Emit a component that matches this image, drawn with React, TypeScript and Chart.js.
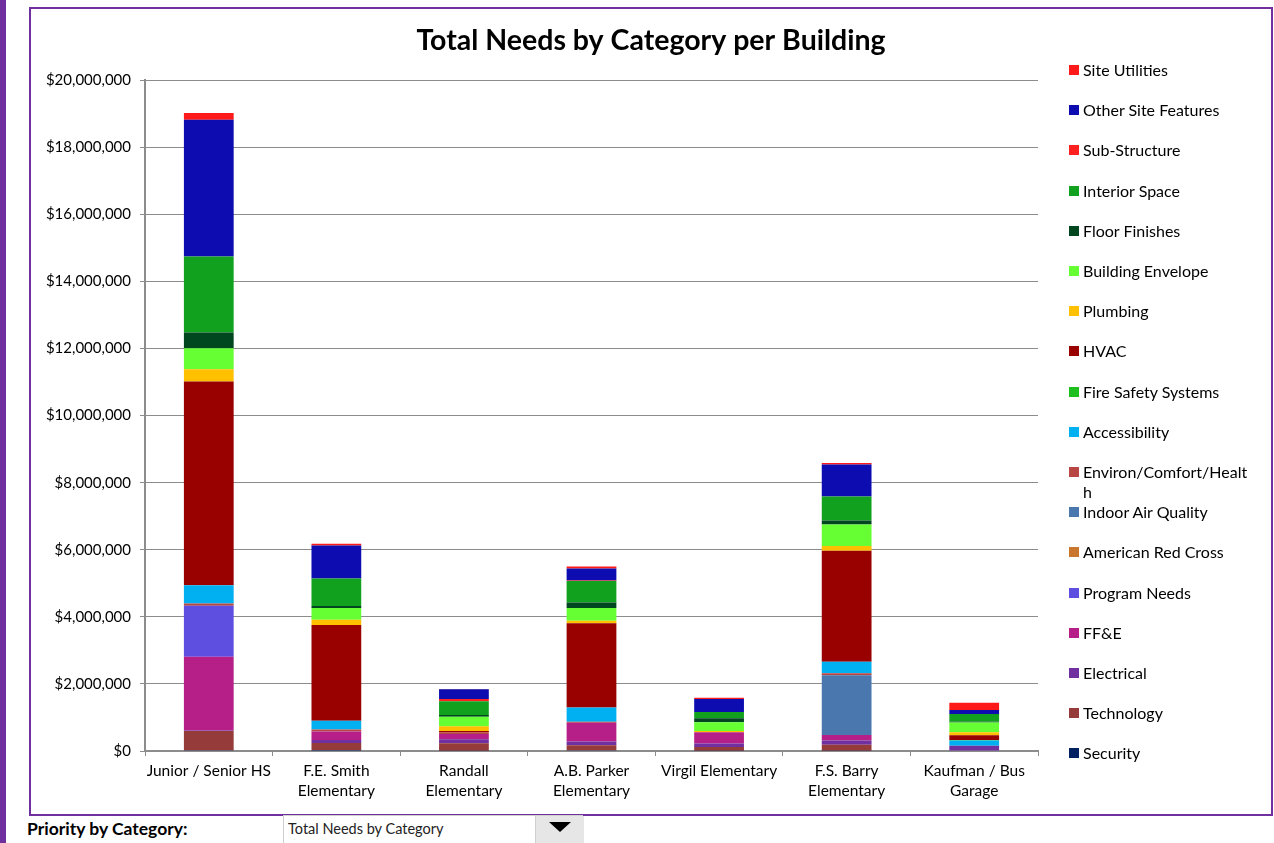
import React, { useEffect, useRef } from "react";
import { Chart, registerables } from "chart.js";

Chart.register(...registerables);

const buildings: string[][] = [
  ["Junior / Senior HS"],
  ["F.E. Smith", "Elementary"],
  ["Randall", "Elementary"],
  ["A.B. Parker", "Elementary"],
  ["Virgil Elementary"],
  ["F.S. Barry", "Elementary"],
  ["Kaufman / Bus", "Garage"],
];

// values in dollars, stack order bottom -> top
const security = [20000, 30000, 10000, 20000, 10000, 10000, 0];
const technology = [580000, 210000, 220000, 150000, 110000, 180000, 0];
const electrical = [10000, 90000, 120000, 110000, 100000, 120000, 160000];
const ffe = [2200000, 250000, 160000, 560000, 340000, 170000, 0];
const programNeeds = [1520000, 0, 0, 0, 0, 0, 0];
const americanRedCross = [0, 0, 0, 0, 0, 0, 0];
const indoorAirQuality = [0, 0, 0, 0, 0, 1780000, 0];
const environ = [70000, 60000, 40000, 30000, 0, 60000, 0];
const accessibility = [540000, 260000, 0, 430000, 0, 340000, 150000];
const fireSafety = [0, 0, 0, 0, 0, 0, 20000];
const hvac = [6080000, 2860000, 50000, 2510000, 0, 3310000, 140000];
const plumbing = [360000, 150000, 140000, 70000, 40000, 140000, 90000];
const buildingEnvelope = [630000, 350000, 280000, 380000, 260000, 640000, 290000];
const floorFinishes = [470000, 60000, 50000, 170000, 120000, 120000, 20000];
const interiorSpace = [2260000, 820000, 410000, 640000, 180000, 720000, 230000];
const subStructure = [0, 0, 70000, 10000, 0, 0, 0];
const otherSiteFeatures = [4080000, 990000, 290000, 360000, 390000, 950000, 120000];
const siteUtilities = [200000, 50000, 10000, 60000, 40000, 50000, 220000];

const yTicksMax = 20000000;
const yTicksStep = 2000000;

const series: { label: string; data: number[]; color: string }[] = [
  { label: "Security", data: security, color: "#002060" },
  { label: "Technology", data: technology, color: "#953B3A" },
  { label: "Electrical", data: electrical, color: "#7030A0" },
  { label: "FF&E", data: ffe, color: "#B51F87" },
  { label: "Program Needs", data: programNeeds, color: "#5F4FE0" },
  { label: "American Red Cross", data: americanRedCross, color: "#C9762F" },
  { label: "Indoor Air Quality", data: indoorAirQuality, color: "#4A78AE" },
  { label: "Environ/Comfort/Health", data: environ, color: "#B84744" },
  { label: "Accessibility", data: accessibility, color: "#00B0F0" },
  { label: "Fire Safety Systems", data: fireSafety, color: "#1FBF1F" },
  { label: "HVAC", data: hvac, color: "#990000" },
  { label: "Plumbing", data: plumbing, color: "#FFC000" },
  { label: "Building Envelope", data: buildingEnvelope, color: "#66FF33" },
  { label: "Floor Finishes", data: floorFinishes, color: "#00461F" },
  { label: "Interior Space", data: interiorSpace, color: "#12A11F" },
  { label: "Sub-Structure", data: subStructure, color: "#FF2020" },
  { label: "Other Site Features", data: otherSiteFeatures, color: "#0C0CB0" },
  { label: "Site Utilities", data: siteUtilities, color: "#FF1A1A" },
];

const FONT = "Lato, 'Open Sans', sans-serif";
const PURPLE = "#7030A0";

export default function App() {
  const canvasRef = useRef<HTMLCanvasElement | null>(null);

  useEffect(() => {
    document.body.style.margin = "0";
    const canvas = canvasRef.current;
    if (!canvas) return;
    Chart.defaults.font.family = FONT;
    const chart = new Chart(canvas, {
      type: "bar",
      data: {
        labels: buildings,
        datasets: series.map((s) => ({
          label: s.label,
          data: s.data,
          backgroundColor: s.color,
          borderWidth: 0,
          barPercentage: 0.39,
          categoryPercentage: 1,
        })),
      },
      options: {
        animation: false,
        responsive: false,
        devicePixelRatio: 1,
        layout: { padding: { left: 0, right: 0, top: 0, bottom: 0 } },
        plugins: {
          legend: { display: false },
          tooltip: { enabled: false },
          title: {
            display: true,
            text: "Total Needs by Category per Building",
            color: "#000",
            font: { family: FONT, size: 28.5, weight: "bold", lineHeight: 1.2 },
            padding: { top: 13, bottom: 22 },
          },
        },
        scales: {
          x: {
            stacked: true,
            grid: {
              drawOnChartArea: false,
              drawTicks: true,
              tickLength: 5,
              color: "#8c8c8c",
              offset: true,
            },
            border: { color: "#8c8c8c", width: 2 },
            ticks: {
              color: "#000",
              font: { family: FONT, size: 15.5, lineHeight: 1.3 },
              maxRotation: 0,
              autoSkip: false,
              padding: 5,
            },
            afterFit: (scale: any) => {
              scale.height = 63;
            },
          },
          y: {
            stacked: true,
            min: 0,
            max: yTicksMax,
            grid: { color: "#8c8c8c", lineWidth: 1, tickLength: 5 },
            border: { color: "#8c8c8c", width: 2 },
            ticks: {
              stepSize: yTicksStep,
              color: "#000",
              padding: 9,
              font: { family: FONT, size: 15 },
              callback: (v: any) => "$" + Number(v).toLocaleString("en-US"),
            },
            afterFit: (scale: any) => {
              scale.width = 113;
            },
          },
          legendSpace: {
            type: "linear",
            position: "right",
            display: true,
            grid: { display: false, drawOnChartArea: false },
            border: { display: false },
            ticks: { display: false },
            afterFit: (scale: any) => {
              scale.width = 232;
            },
          },
        },
      },
    });
    return () => chart.destroy();
  }, []);

  const legendItems = [...series].reverse();

  return (
    <div
      style={{
        position: "fixed",
        left: 0,
        top: 0,
        width: 1274,
        height: 843,
        background: "#fff",
        fontFamily: FONT,
        overflow: "hidden",
      }}
    >
      <div style={{ position: "absolute", left: 0, top: 0, width: 6, height: 843, background: PURPLE }} />
      <div
        style={{
          position: "absolute",
          left: 29,
          top: 7,
          width: 1244,
          height: 809,
          border: `2px solid ${PURPLE}`,
          boxSizing: "border-box",
        }}
      />
      <canvas
        ref={canvasRef}
        width={1238}
        height={803}
        style={{ position: "absolute", left: 32, top: 11, width: 1238, height: 803 }}
      />
      {legendItems.map((s, i) => {
        const cy = 70 + i * 40.2;
        const lines = s.label === "Environ/Comfort/Health" ? ["Environ/Comfort/Healt", "h"] : [s.label];
        return (
          <div key={s.label} style={{ position: "absolute", left: 1069, top: cy - 10, height: 20 }}>
            <div
              style={{
                position: "absolute",
                left: 0,
                top: 5,
                width: 10,
                height: 10,
                background: s.color,
              }}
            />
            <div
              style={{
                position: "absolute",
                left: 14,
                top: 0,
                fontSize: 16,
                lineHeight: "20px",
                color: "#000",
                whiteSpace: "nowrap",
              }}
            >
              {lines.map((l, k) => (
                <div key={k}>{l}</div>
              ))}
            </div>
          </div>
        );
      })}
      <div
        style={{
          position: "absolute",
          left: 27,
          top: 818,
          fontSize: 17.5,
          fontWeight: "bold",
          color: "#000",
          lineHeight: "22px",
          whiteSpace: "nowrap",
        }}
      >
        Priority by Category:
      </div>
      <div
        style={{
          position: "absolute",
          left: 283,
          top: 815,
          width: 300,
          height: 30,
          border: "1px solid #d0d0d0",
          boxSizing: "border-box",
          background: "#fff",
        }}
      >
        <div
          style={{
            position: "absolute",
            left: 4,
            top: 4,
            fontSize: 14.5,
            color: "#222",
            lineHeight: "18px",
            whiteSpace: "nowrap",
          }}
        >
          Total Needs by Category
        </div>
        <div
          style={{
            position: "absolute",
            left: 251,
            top: 0,
            width: 48,
            height: 28,
            background: "#e6e6e6",
            borderLeft: "1px solid #d0d0d0",
          }}
        >
          <div
            style={{
              position: "absolute",
              left: 13,
              top: 6,
              width: 0,
              height: 0,
              borderLeft: "11px solid transparent",
              borderRight: "11px solid transparent",
              borderTop: "10px solid #000",
            }}
          />
        </div>
      </div>
    </div>
  );
}
